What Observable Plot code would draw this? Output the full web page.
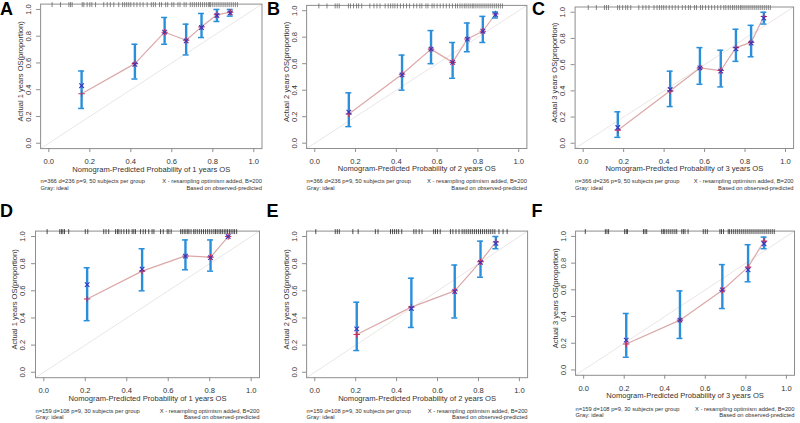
<!DOCTYPE html>
<html><head><meta charset="utf-8">
<script src="https://cdn.jsdelivr.net/npm/d3@7"></script>
<script src="https://cdn.jsdelivr.net/npm/@observablehq/plot@0.6"></script>
<style>
html,body{margin:0;padding:0;background:#fff;}
#root{position:relative;width:800px;height:423px;overflow:hidden;font-family:"Liberation Sans",Arial,sans-serif;}
.panel{position:absolute;}
.panel svg{overflow:visible;}
.letter{position:absolute;font-weight:bold;font-size:18px;line-height:1;color:#000;font-family:"Liberation Sans",Arial,sans-serif;}
</style></head><body><div id="root"></div>
<script>
// ---- tick labels / texts ----
const xTicks = [0, 0.2, 0.4, 0.6, 0.8, 1.0];
const yTicks = [0, 0.2, 0.4, 0.6, 0.8, 1.0];
const panelLetters = ["A", "B", "C", "D", "E", "F"];
const yearsOS = [1, 2, 3, 1, 2, 3];
const cohortText = ["n=366 d=236 p=9, 50 subjects per group", "n=366 d=236 p=9, 50 subjects per group", "n=366 d=236 p=9, 50 subjects per group",
                    "n=159 d=108 p=9, 30 subjects per group", "n=159 d=108 p=9, 30 subjects per group", "n=159 d=108 p=9, 30 subjects per group"];
const resampText = "X - resampling optimism added, B=200";
const idealText = "Gray: ideal";
const basedText = "Based on observed-predicted";

// ---- panel A (1-year, training) ----
const predA = [0.16, 0.42, 0.565, 0.67, 0.745, 0.82, 0.885];
const obsA  = [0.37, 0.595, 0.83, 0.77, 0.87, 0.96, 0.98];
const corA  = [0.43, 0.59, 0.83, 0.765, 0.865, 0.955, 0.975];
const loA   = [0.26, 0.48, 0.74, 0.66, 0.79, 0.91, 0.95];
const hiA   = [0.54, 0.74, 0.94, 0.89, 0.97, 1.0, 1.0];
const rugA  = [0.016, 0.057, 0.098, 0.106, 0.114, 0.163, 0.171, 0.187, 0.2, 0.21, 0.228, 0.268, 0.285, 0.3, 0.317, 0.341, 0.36, 0.37, 0.38, 0.39, 0.4, 0.415, 0.43, 0.445, 0.46, 0.48, 0.5, 0.51, 0.52, 0.54, 0.55, 0.57, 0.58, 0.6, 0.61, 0.63, 0.64, 0.66, 0.67, 0.69, 0.7, 0.71, 0.72, 0.73, 0.74, 0.75, 0.76, 0.77, 0.78, 0.785, 0.79, 0.8, 0.81, 0.82, 0.83, 0.84, 0.85, 0.86, 0.87, 0.88, 0.89, 0.9, 0.91, 0.92];

// ---- panel B (2-year, training) ----
const predB = [0.167, 0.428, 0.57, 0.676, 0.748, 0.824, 0.886];
const obsB  = [0.22, 0.52, 0.71, 0.61, 0.786, 0.845, 0.975];
const corB  = [0.235, 0.515, 0.71, 0.61, 0.785, 0.845, 0.97];
const loB   = [0.125, 0.40, 0.60, 0.49, 0.69, 0.76, 0.945];
const hiB   = [0.38, 0.665, 0.85, 0.76, 0.907, 0.957, 0.99];
const rugB  = [0.02, 0.06, 0.1, 0.11, 0.12, 0.165, 0.175, 0.19, 0.205, 0.215, 0.23, 0.27, 0.29, 0.305, 0.32, 0.345, 0.36, 0.372, 0.383, 0.393, 0.405, 0.42, 0.435, 0.45, 0.465, 0.485, 0.5, 0.515, 0.525, 0.545, 0.555, 0.575, 0.585, 0.6, 0.615, 0.63, 0.645, 0.66, 0.675, 0.69, 0.7, 0.712, 0.722, 0.733, 0.742, 0.752, 0.762, 0.772, 0.78, 0.79, 0.8, 0.81, 0.82, 0.83, 0.84, 0.85, 0.86, 0.87, 0.88, 0.89, 0.9, 0.91, 0.92];

// ---- panel C (3-year, training) ----
const predC = [0.171, 0.43, 0.577, 0.68, 0.755, 0.83, 0.893];
const obsC  = [0.10, 0.40, 0.575, 0.555, 0.73, 0.77, 0.967];
const corC  = [0.12, 0.41, 0.575, 0.55, 0.72, 0.765, 0.955];
const loC   = [0.045, 0.28, 0.45, 0.43, 0.625, 0.66, 0.91];
const hiC   = [0.24, 0.55, 0.73, 0.71, 0.87, 0.90, 1.0];
const rugC  = [0.025, 0.065, 0.105, 0.115, 0.125, 0.17, 0.18, 0.195, 0.21, 0.22, 0.235, 0.275, 0.295, 0.31, 0.325, 0.35, 0.365, 0.377, 0.388, 0.398, 0.41, 0.425, 0.44, 0.455, 0.47, 0.49, 0.505, 0.52, 0.53, 0.55, 0.56, 0.58, 0.59, 0.605, 0.62, 0.635, 0.65, 0.665, 0.68, 0.695, 0.705, 0.717, 0.727, 0.738, 0.747, 0.757, 0.767, 0.777, 0.785, 0.795, 0.805, 0.815, 0.825, 0.835, 0.845, 0.855, 0.865, 0.875, 0.885, 0.895, 0.905, 0.915, 0.925];

// ---- panel D (1-year, validation) ----
const predD = [0.209, 0.474, 0.683, 0.804, 0.889];
const obsD  = [0.54, 0.745, 0.857, 0.848, 1.0];
const corD  = [0.646, 0.76, 0.855, 0.845, 1.0];
const loD   = [0.38, 0.60, 0.755, 0.745, 1.0];
const hiD   = [0.77, 0.91, 0.975, 0.975, 1.0];
const rugD  = [0.016, 0.077, 0.085, 0.092, 0.1, 0.12, 0.2, 0.212, 0.289, 0.3, 0.313, 0.346, 0.355, 0.362, 0.373, 0.386, 0.399, 0.41, 0.426, 0.434, 0.442, 0.466, 0.479, 0.49, 0.506, 0.522, 0.531, 0.563, 0.576, 0.595, 0.603, 0.614, 0.66, 0.668, 0.677, 0.685, 0.694, 0.7, 0.71, 0.723, 0.73, 0.74, 0.75, 0.76, 0.77, 0.78, 0.79, 0.8, 0.81, 0.82, 0.828, 0.836, 0.845, 0.853, 0.861, 0.87, 0.878, 0.886, 0.895, 0.903, 0.912, 0.92, 0.93];

// ---- panel E (2-year, validation) ----
const predE = [0.205, 0.472, 0.684, 0.81, 0.885];
const obsE  = [0.278, 0.48, 0.60, 0.815, 0.96];
const corE  = [0.32, 0.47, 0.595, 0.81, 0.95];
const loE   = [0.16, 0.33, 0.40, 0.70, 0.91];
const hiE   = [0.516, 0.693, 0.79, 0.966, 1.0];
const rugE  = [0.005, 0.1, 0.11, 0.12, 0.186, 0.212, 0.296, 0.309, 0.37, 0.38, 0.39, 0.4, 0.41, 0.425, 0.484, 0.495, 0.51, 0.524, 0.581, 0.59, 0.6, 0.613, 0.663, 0.675, 0.69, 0.705, 0.72, 0.73, 0.74, 0.75, 0.76, 0.77, 0.78, 0.79, 0.8, 0.81, 0.82, 0.83, 0.84, 0.85, 0.86, 0.87, 0.88, 0.9, 0.92, 0.94];

// ---- panel F (3-year, validation) ----
const predF = [0.21, 0.475, 0.684, 0.811, 0.89];
const obsF  = [0.194, 0.373, 0.597, 0.77, 0.965];
const corF  = [0.224, 0.373, 0.6, 0.75, 0.945];
const loF   = [0.095, 0.236, 0.46, 0.66, 0.908];
const hiF   = [0.423, 0.592, 0.789, 0.938, 0.995];
const rugF  = [0.008, 0.107, 0.115, 0.123, 0.202, 0.21, 0.216, 0.295, 0.303, 0.311, 0.385, 0.393, 0.4, 0.41, 0.42, 0.43, 0.44, 0.45, 0.459, 0.484, 0.492, 0.5, 0.515, 0.59, 0.6, 0.61, 0.672, 0.68, 0.69, 0.713, 0.72, 0.73, 0.74, 0.75, 0.76, 0.77, 0.78, 0.79, 0.8, 0.81, 0.82, 0.83, 0.84, 0.85, 0.86, 0.87, 0.88, 0.89, 0.9, 0.91, 0.92, 0.93, 0.94];

const panelsData = [
  {pred: predA, obs: obsA, cor: corA, lo: loA, hi: hiA, rug: rugA},
  {pred: predB, obs: obsB, cor: corB, lo: loB, hi: hiB, rug: rugB},
  {pred: predC, obs: obsC, cor: corC, lo: loC, hi: hiC, rug: rugC},
  {pred: predD, obs: obsD, cor: corD, lo: loD, hi: hiD, rug: rugD},
  {pred: predE, obs: obsE, cor: corE, lo: loE, hi: hiE, rug: rugE},
  {pred: predF, obs: obsF, cor: corF, lo: loF, hi: hiF, rug: rugF}
];

// ---- layout (pixels) ----
const layout = [
  {left: 0,   top: 0,   mL: 40.1, pw: 221.4, mT: 3.6, ph: 144.5, lx: 0,     ly: 0,   rug: "#666"},
  {left: 265, top: 0,   mL: 41.1, pw: 220.3, mT: 4.9, ph: 143.1, lx: 267,   ly: 0,   rug: "#666"},
  {left: 530, top: 0,   mL: 44.6, pw: 218.5, mT: 6.5, ph: 141.5, lx: 532,   ly: 0,   rug: "#666"},
  {left: 0,   top: 226, mL: 35.0, pw: 224.0, mT: 4.6, ph: 146.6, lx: 0,     ly: 202, rug: "#222"},
  {left: 265, top: 226, mL: 41.1, pw: 221.0, mT: 4.6, ph: 146.6, lx: 266.5, ly: 202, rug: "#222"},
  {left: 530, top: 226, mL: 45.2, pw: 219.7, mT: 4.6, ph: 144.7, lx: 531.5, ly: 202, rug: "#222"}
];

const DOMAIN = [-0.04, 1.04];
const FONT = "Liberation Sans, Arial, sans-serif";
const BLUE = "#2a8fdb";
const AXIS = "#8e8e8e";
const TXT = "#333";
const fmt = d3.format(".1f");
const root = document.getElementById("root");

panelsData.forEach((data, i) => {
  const c = layout[i];
  const mR = 6, mB = 50;
  const W = c.mL + c.pw + mR, H = c.mT + c.ph + mB;
  const pts = data.pred.map((x, k) => ({x, obs: data.obs[k], cor: data.cor[k], lo: data.lo[k], hi: data.hi[k]}));
  const bars = pts.filter(d => d.hi > d.lo);
  const xTitle = `Nomogram-Predicted Probability of ${yearsOS[i]} years OS`;
  const yTitle = `Actual ${yearsOS[i]} years OS(proportion)`;
  const subDy1 = i < 3 ? 32.5 : 33.5;
  const T = {fontSize: 7.6, fill: TXT, lineAnchor: "middle"};
  const S = {fontSize: 5.8, fill: TXT, lineAnchor: "middle"};
  const svg = Plot.plot({
    width: W, height: H,
    marginLeft: c.mL, marginRight: mR, marginTop: c.mT, marginBottom: mB,
    x: {domain: DOMAIN, axis: null},
    y: {domain: DOMAIN, axis: null},
    style: {fontFamily: FONT, background: "transparent"},
    marks: [
      Plot.line(DOMAIN, {x: d => d, y: d => d, stroke: "#ece5e5", strokeWidth: 1}),
      Plot.frame({stroke: AXIS, strokeWidth: 1}),
      Plot.ruleX(data.rug, {x: d => d, insetTop: -1.5, insetBottom: c.ph - 3.5, stroke: c.rug, strokeWidth: 0.8}),
      Plot.tickX(xTicks, {x: d => d, insetTop: c.ph, insetBottom: -4, stroke: AXIS}),
      Plot.tickY(yTicks, {y: d => d, insetRight: c.pw, insetLeft: -4, stroke: AXIS}),
      Plot.text(xTicks, {x: d => d, frameAnchor: "bottom", dy: 13, text: d => fmt(d), textAnchor: "middle", ...T}),
      Plot.text(yTicks, {y: d => d, frameAnchor: "left", dx: -12.5, rotate: -90, text: d => fmt(d), textAnchor: "middle", ...T}),
      Plot.text([xTitle], {frameAnchor: "bottom", dy: 20.5, text: d => d, textAnchor: "middle", ...T}),
      Plot.text([yTitle], {frameAnchor: "left", dx: -20.5, dy: -5, rotate: -90, text: d => d, textAnchor: "middle", ...T}),
      Plot.text([cohortText[i]], {frameAnchor: "bottom-left", dy: subDy1, textAnchor: "start", text: d => d, ...S}),
      Plot.text([resampText], {frameAnchor: "bottom-right", dy: subDy1, textAnchor: "end", text: d => d, ...S}),
      Plot.text([idealText], {frameAnchor: "bottom-left", dy: 39.7, textAnchor: "start", text: d => d, ...S}),
      Plot.text([basedText], {frameAnchor: "bottom-right", dy: 39.7, textAnchor: "end", text: d => d, ...S}),
      Plot.line(pts, {x: "x", y: "obs", stroke: "#dba8a8", strokeWidth: 1.2}),
      Plot.ruleX(bars, {x: "x", y1: "lo", y2: "hi", stroke: BLUE, strokeWidth: 2.4}),
      Plot.ruleY(bars, {y: "hi", x1: "x", x2: "x", insetLeft: -3, insetRight: -3, stroke: BLUE, strokeWidth: 1.5}),
      Plot.ruleY(bars, {y: "lo", x1: "x", x2: "x", insetLeft: -3, insetRight: -3, stroke: BLUE, strokeWidth: 1.5}),
      Plot.dot(pts, {x: "x", y: "obs", symbol: "plus", r: 2.2, stroke: "#c8305a", strokeWidth: 1.1}),
      Plot.dot(pts, {x: "x", y: "cor", symbol: "times", r: 2.2, stroke: "#3535c0", strokeWidth: 1.1})
    ]
  });
  const div = document.createElement("div");
  div.className = "panel";
  div.style.left = c.left + "px";
  div.style.top = c.top + "px";
  div.appendChild(svg);
  root.appendChild(div);
  const lab = document.createElement("div");
  lab.className = "letter";
  lab.style.left = c.lx + "px";
  lab.style.top = c.ly + "px";
  lab.textContent = panelLetters[i];
  root.appendChild(lab);
});
</script>
</body></html>
